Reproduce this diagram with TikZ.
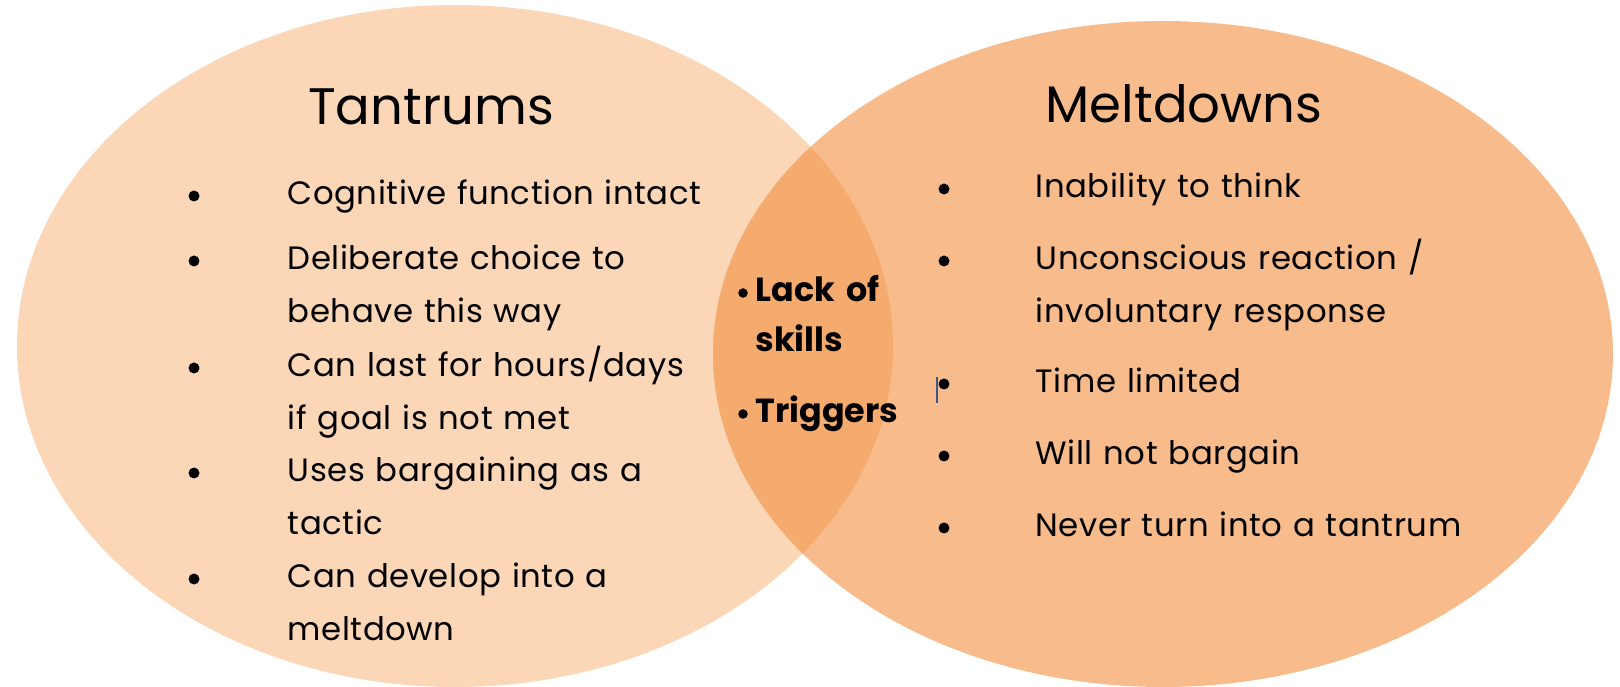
\documentclass[tikz,border=0pt]{standalone}
\usepackage{fontspec}
\setmainfont{Poppins}
\newfontfamily\listfont[LetterSpace=1.8]{Poppins}
\usepackage{tikz}
\usetikzlibrary{positioning}

\definecolor{tantrumpeach}{RGB}{251,214,183}
\definecolor{meltdownpeach}{RGB}{248,188,140}
\definecolor{sharedpeach}{RGB}{245,170,110}
\definecolor{caretblue}{RGB}{60,90,125}

\begin{document}
\begin{tikzpicture}[
  x=0.1mm, y=-0.1mm,
  item/.style={anchor=base west, inner sep=0pt, text width=64mm, align=left,
    font=\listfont\fontsize{9.2}{14.8}\selectfont},
  shared/.style={anchor=base west, inner sep=0pt, text width=20mm, align=left,
    font=\bfseries\fontsize{9.5}{14.2}\selectfont},
  dot/.style={circle, fill=black, inner sep=0pt, minimum size=1.1mm},
  smalldot/.style={circle, fill=black, inner sep=0pt, minimum size=0.95mm},
  heading/.style={anchor=base, inner sep=0pt, font=\fontsize{14.6}{18}\selectfont}
]
  \useasboundingbox (0,0) rectangle (1620,687);

  % the two sets and their overlap
  \fill[tantrumpeach] (455,346) ellipse [x radius=43.8mm, y radius=34.1mm];
  \fill[meltdownpeach] (1163,354) ellipse [x radius=45.0mm, y radius=33.3mm];
  \begin{scope}
    \clip (455,346) ellipse [x radius=43.8mm, y radius=34.1mm];
    \fill[sharedpeach] (1163,354) ellipse [x radius=45.0mm, y radius=33.3mm];
  \end{scope}

  \node[heading] (tantrums) at (431,125) {Tantrums};
  \node[heading] (meltdowns) at (1184,123) {Meltdowns};

  % left list
  \node[item] (t1) at (287,205) {Cognitive function intact};
  \node[item] (t2) at (287,270) {Deliberate choice to\\behave this way};
  \node[item] (t3) at (287,377) {Can last for hours/days\\if goal is not met};
  \node[item] (t4) at (287,482) {Uses bargaining as a\\tactic};
  \node[item] (t5) at (287,588) {Can develop into a\\meltdown};
  \foreach \y [count=\i] in {205,270,377,482,588}
    \node[dot] (td\i) at (194,\y-9) {};

  % right list
  \node[item] (m1) at (1035,198) {Inability to think};
  \node[item] (m2) at (1035,270) {Unconscious reaction /\\involuntary response};
  \node[item] (m3) at (1035,393) {Time limited};
  \node[item] (m4) at (1035,465) {Will not bargain};
  \node[item] (m5) at (1035,537) {Never turn into a tantrum};
  \foreach \y [count=\i] in {198,270,393,465,537}
    \node[dot] (md\i) at (944,\y-9) {};
  \draw[caretblue, line width=0.25mm] (937,377) -- (937,403);

  % overlap
  \node[shared] (s1) at (755,302) {Lack of\\skills};
  \node[shared] (s2) at (755,423) {Triggers};
  \node[smalldot] (sd1) at (743,293) {};
  \node[smalldot] (sd2) at (743,414) {};
\end{tikzpicture}
\end{document}
